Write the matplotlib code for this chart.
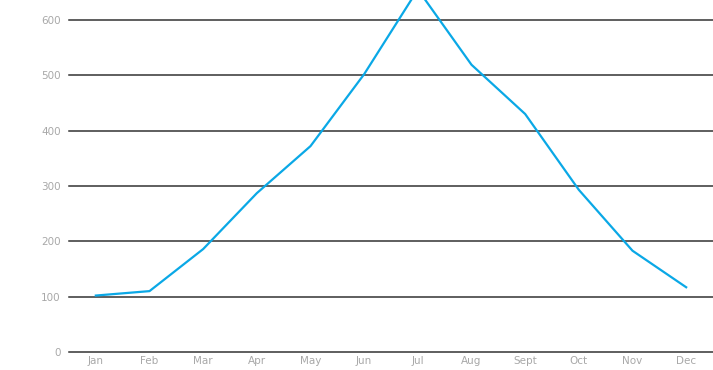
import matplotlib
matplotlib.use("Agg")
import matplotlib.pyplot as plt

months = ["Jan", "Feb", "Mar", "Apr", "May", "Jun", "Jul", "Aug", "Sept", "Oct", "Nov", "Dec"]
values = [102, 110, 186, 287, 372, 502, 655, 519, 430, 293, 183, 117]
y_ticks = [0, 100, 200, 300, 400, 500, 600]

fig = plt.figure(figsize=(7.13, 3.70), dpi=100)
ax = fig.add_axes([69 / 713, 18 / 370, 644 / 713, 352 / 370])

for t in y_ticks:
    ax.axhline(t, color="#333333", lw=1.1, zorder=1, clip_on=False)

x = list(range(len(months)))
ax.plot(x, values, color="#0AA8E6", lw=1.6, zorder=3, solid_joinstyle="round")

ax.set_xlim(-0.5, len(months) - 0.5)
ax.set_ylim(0, 636)
ax.set_xticks(x)
ax.set_xticklabels(months)
ax.set_yticks(y_ticks)
ax.set_yticklabels([str(t) for t in y_ticks])
ax.tick_params(axis="both", length=0, labelsize=7.5, labelcolor="#a8a8a8")
ax.tick_params(axis="y", pad=6)
ax.tick_params(axis="x", pad=3)
for s in ax.spines.values():
    s.set_visible(False)

fig.savefig("out.png", dpi=100)
